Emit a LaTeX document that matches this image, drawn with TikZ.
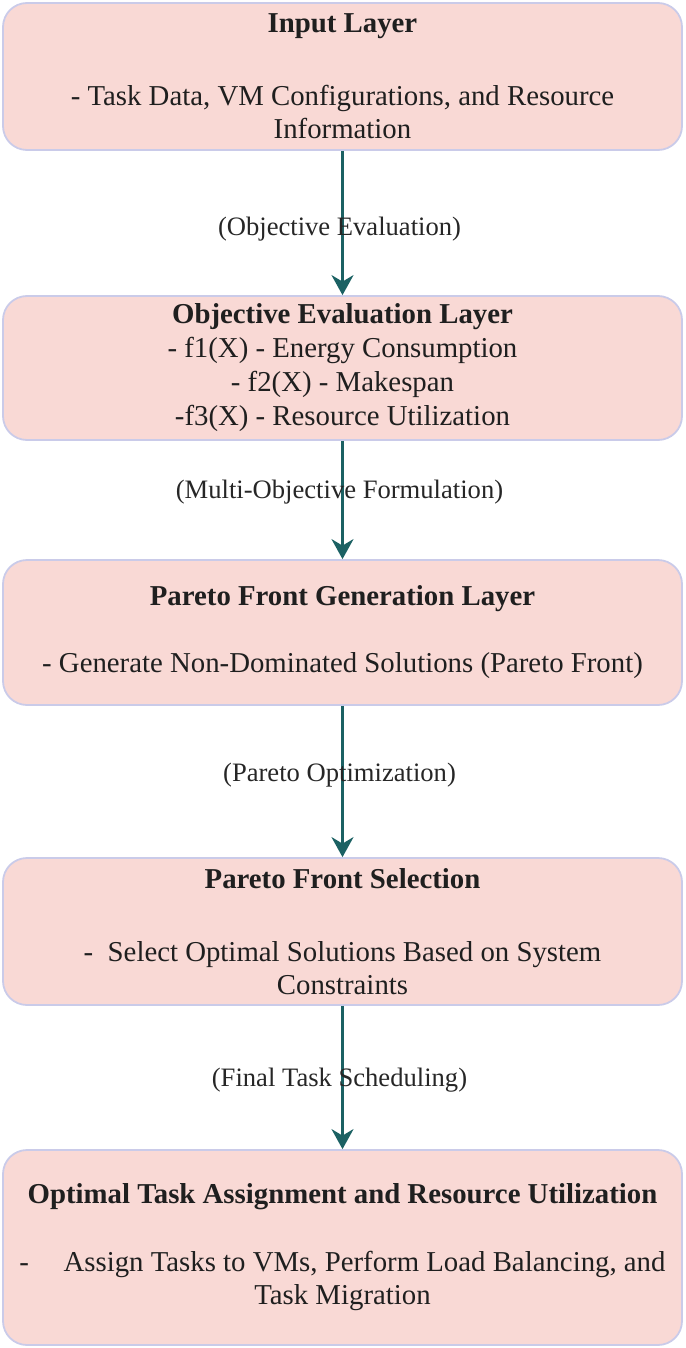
\documentclass[tikz,border=0pt]{standalone}
\usepackage{fontspec}
\setmainfont{Liberation Serif}
\usetikzlibrary{arrows.meta}
\definecolor{layerfill}{HTML}{F9D9D5}
\definecolor{layerline}{HTML}{CACBE9}
\definecolor{flowline}{HTML}{1B6163}

\begin{document}
\begin{tikzpicture}[x=0.5pt,y=-0.5pt,>={Stealth[length=10pt,width=11pt]},
    layer/.style={draw=layerline,fill=layerfill,line width=0.9pt,rounded corners=12pt,
      minimum width=339.5pt,inner sep=0pt,align=center,text=black!88,
      font=\fontsize{14.4}{16.5}\selectfont},
    flow/.style={->,draw=flowline,line width=1.25pt},
    flowlabel/.style={font=\fontsize{13.3}{15}\selectfont,text=black!85,xshift=-1.5pt}]
    \useasboundingbox (0,0) rectangle (685,1348);
    \node[layer,minimum height=73.5pt] (input) at (342.5,76.5)
      {\textbf{Input Layer}\\[20pt]- Task Data, VM Configurations, and Resource\\Information};
    \node[layer,minimum height=72pt] (objective) at (342.5,368)
      {\textbf{Objective Evaluation Layer}\\[0.5pt]- f1(X) - Energy Consumption\\[0.5pt]- f2(X) - Makespan\\[0.5pt]-f3(X) - Resource Utilization};
    \node[layer,minimum height=72.5pt] (pareto) at (342.5,632.5)
      {\textbf{Pareto Front Generation Layer}\\[17pt]- Generate Non-Dominated Solutions (Pareto Front)};
    \node[layer,minimum height=73.5pt] (selection) at (342.5,931.5)
      {\textbf{Pareto Front Selection}\\[20pt]-\ \ Select Optimal Solutions Based on System\\Constraints};
    \node[layer,minimum height=97.5pt] (assign) at (342.5,1247.5)
      {\textbf{Optimal Task Assignment and Resource Utilization}\\[17.5pt]-\hspace{1.2em}Assign Tasks to VMs, Perform Load Balancing, and\\Task Migration};
    % connectors between the layers
    \draw[flow] (input.south) -- node[flowlabel,yshift=-3pt] {(Objective Evaluation)} (objective.north);
    \draw[flow] (objective.south) -- node[flowlabel,yshift=4pt] {(Multi-Objective Formulation)} (pareto.north);
    \draw[flow] (pareto.south) -- node[flowlabel,yshift=3pt] {(Pareto Optimization)} (selection.north);
    \draw[flow] (selection.south) -- node[flowlabel,yshift=-1.5pt] {(Final Task Scheduling)} (assign.north);
  \end{tikzpicture}
\end{document}
